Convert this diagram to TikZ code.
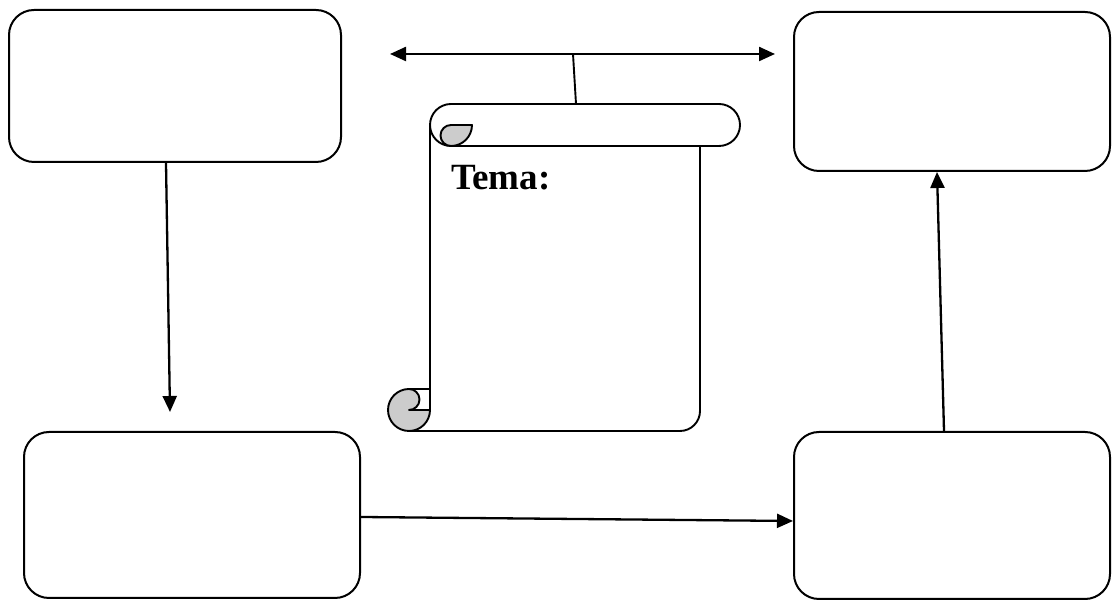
\documentclass[tikz,border=0pt]{standalone}
\usepackage{fontspec}
\setmainfont{Liberation Serif}
\usetikzlibrary{arrows.meta}
\begin{document}
\begin{tikzpicture}[x=1pt,y=1pt,
  box/.style={draw,line width=2pt,rounded corners=25pt,minimum width=#1,inner sep=0pt},
  conn/.style={line width=2.3pt,-{Triangle[length=16pt,width=14pt]}},
  sc/.style={line width=1.9pt,line join=round},
  curl/.style={sc,fill=black!20}]
\useasboundingbox (0,0) rectangle (1116,601);
% boxes
\node[box=332pt,minimum height=152pt] (TL) at (175,515) {};
\node[box=316pt,minimum height=159pt] (TR) at (952,509.5) {};
\node[box=336pt,minimum height=166pt] (BL) at (192,86) {};
\node[box=316pt,minimum height=167pt] (BR) at (952,85.5) {};
% scroll
\coordinate (scrolltop) at (576,497);
\draw[sc] (430,476) -- (430,191);
\draw[sc] (409,170) -- (680,170) arc[start angle=270,end angle=360,radius=20pt] -- (700,455);
\draw[sc] (451,497) -- (719,497) arc[start angle=90,end angle=-90,radius=21pt] -- (451,455);
\draw[sc] (451,497) arc[start angle=90,end angle=270,radius=21pt];
\draw[curl] (451,476) -- (472,476) arc[start angle=0,end angle=-90,radius=21pt]
  arc[start angle=270,end angle=90,radius=10.5pt] -- cycle;
\draw[curl] (409,212) arc[start angle=90,end angle=360,radius=21pt] -- (409,191)
  arc[start angle=-90,end angle=90,radius=10.5pt] -- cycle;
\draw[sc] (409,212) -- (430,212);
\node[anchor=base west,inner sep=0pt,font=\fontsize{37}{42}\selectfont\bfseries] (tema) at (451,411) {Tema:};
% arrows
\coordinate (dl) at (390,547);
\coordinate (dr) at (775,547);
\coordinate (dm) at (573,547);
\draw[line width=2.3pt,{Triangle[length=16pt,width=14pt]}-{Triangle[length=16pt,width=14pt]}] (dl) -- (dr);
\draw[sc] (dm) -- (scrolltop);
\coordinate (leftend) at (170,189);
\draw[conn] ([xshift=-9pt]TL.south) -- (leftend);
\draw[conn] ([yshift=-2pt]BL.east) -- ([yshift=-5.5pt]BR.west);
\draw[conn] ([xshift=-8pt]BR.north) -- ([xshift=-15pt]TR.south);
\end{tikzpicture}
\end{document}
